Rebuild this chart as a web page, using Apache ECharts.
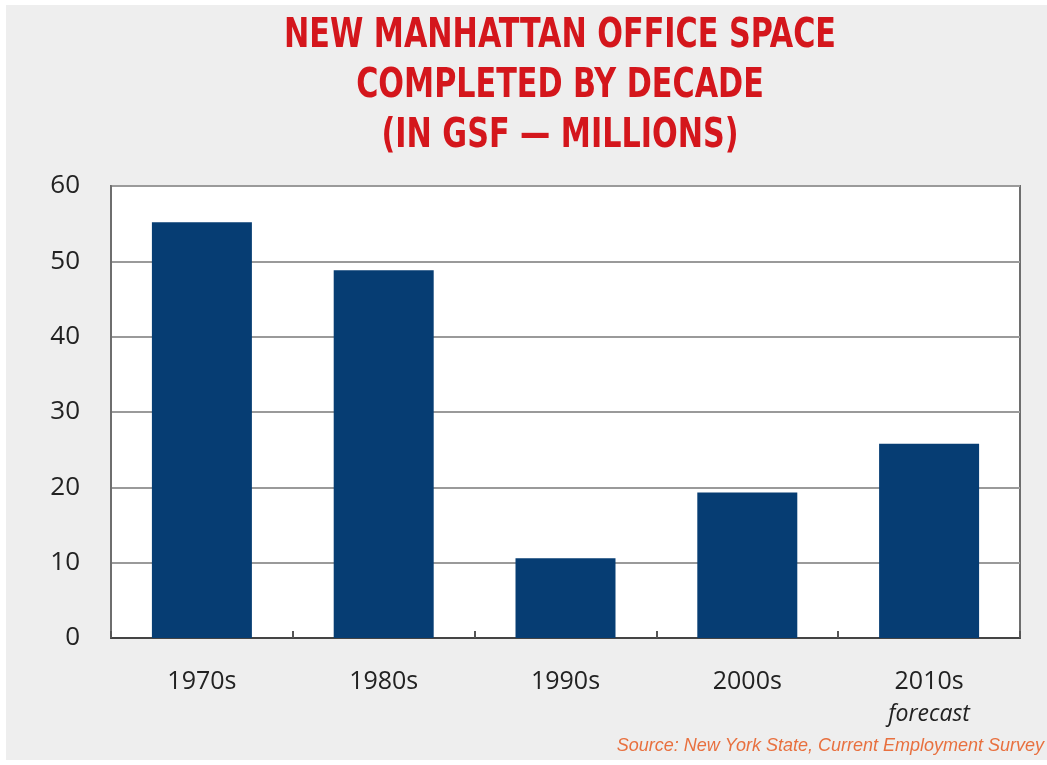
<!DOCTYPE html>
<html>
<head>
<meta charset="utf-8">
<script src="https://cdn.jsdelivr.net/npm/echarts@6/dist/echarts.min.js"></script>
<style>html,body{margin:0;padding:0;background:#fff;}#c{width:1047px;height:765px;}</style>
</head>
<body>
<div id="c"></div>
<script>
const categories = ['1970s', '1980s', '1990s', '2000s', '2010s'];
const values = [55.2, 48.8, 10.6, 19.3, 25.8];
const yTicks = [0, 10, 20, 30, 40, 50, 60];
const titleLines = ['NEW MANHATTAN OFFICE SPACE', 'COMPLETED BY DECADE', '(IN GSF \u2014 MILLIONS)'];
const forecastNote = 'forecast';
const sourceText = 'Source: New York State, Current Employment Survey';

const chart = echarts.init(document.getElementById('c'), null, {renderer: 'canvas'});
chart.setOption({
  backgroundColor: '#ffffff',
  grid: {
    left: 111, right: 27, top: 186, bottom: 127,
    show: true, backgroundColor: '#ffffff', borderColor: '#6e6e6e', borderWidth: 2
  },
  xAxis: {
    type: 'category', data: categories,
    axisLine: {lineStyle: {color: '#444', width: 2}},
    axisTick: {show: true, inside: true, length: 7, interval: 0, lineStyle: {color: '#555', width: 2}},
    axisLabel: {
      interval: 0, hideOverlap: false,
      color: '#222', fontSize: 25, fontFamily: 'Open Sans', margin: 28, lineHeight: 32,
      formatter: function (v) { return v === '2010s' ? v + '\n{f|' + forecastNote + '}' : v; },
      rich: {f: {fontStyle: 'italic', fontSize: 23, color: '#222', fontFamily: 'Open Sans', lineHeight: 32}}
    }
  },
  yAxis: {
    type: 'value', min: yTicks[0], max: yTicks[yTicks.length - 1], interval: 10,
    axisLine: {show: true, lineStyle: {color: '#6e6e6e', width: 2}},
    axisTick: {show: false},
    axisLabel: {color: '#222', fontSize: 26, fontFamily: 'Open Sans', margin: 31},
    splitLine: {lineStyle: {color: '#9a9a9a', width: 2}}
  },
  series: [{
    type: 'bar', data: values, barWidth: '55%',
    itemStyle: {color: '#063d73'}
  }],
  graphic: [{
    type: 'rect', left: 6, top: 5, z: -10, silent: true,
    shape: {width: 1041, height: 755},
    style: {fill: '#eeeeee'}
  }, {
    type: 'text', x: 560, y: 12, scaleX: 0.84, originX: 0,
    style: {
      text: titleLines.join('\n'), fill: '#d4161c', align: 'center', verticalAlign: 'top',
      font: 'bold 40px "DejaVu Sans Condensed"', lineHeight: 50
    }
  }, {
    type: 'text', right: 3, top: 737,
    style: {text: sourceText, fill: '#e8703f', font: 'italic 18px "Liberation Sans"'}
  }],
  animation: false
});
</script>
</body>
</html>
